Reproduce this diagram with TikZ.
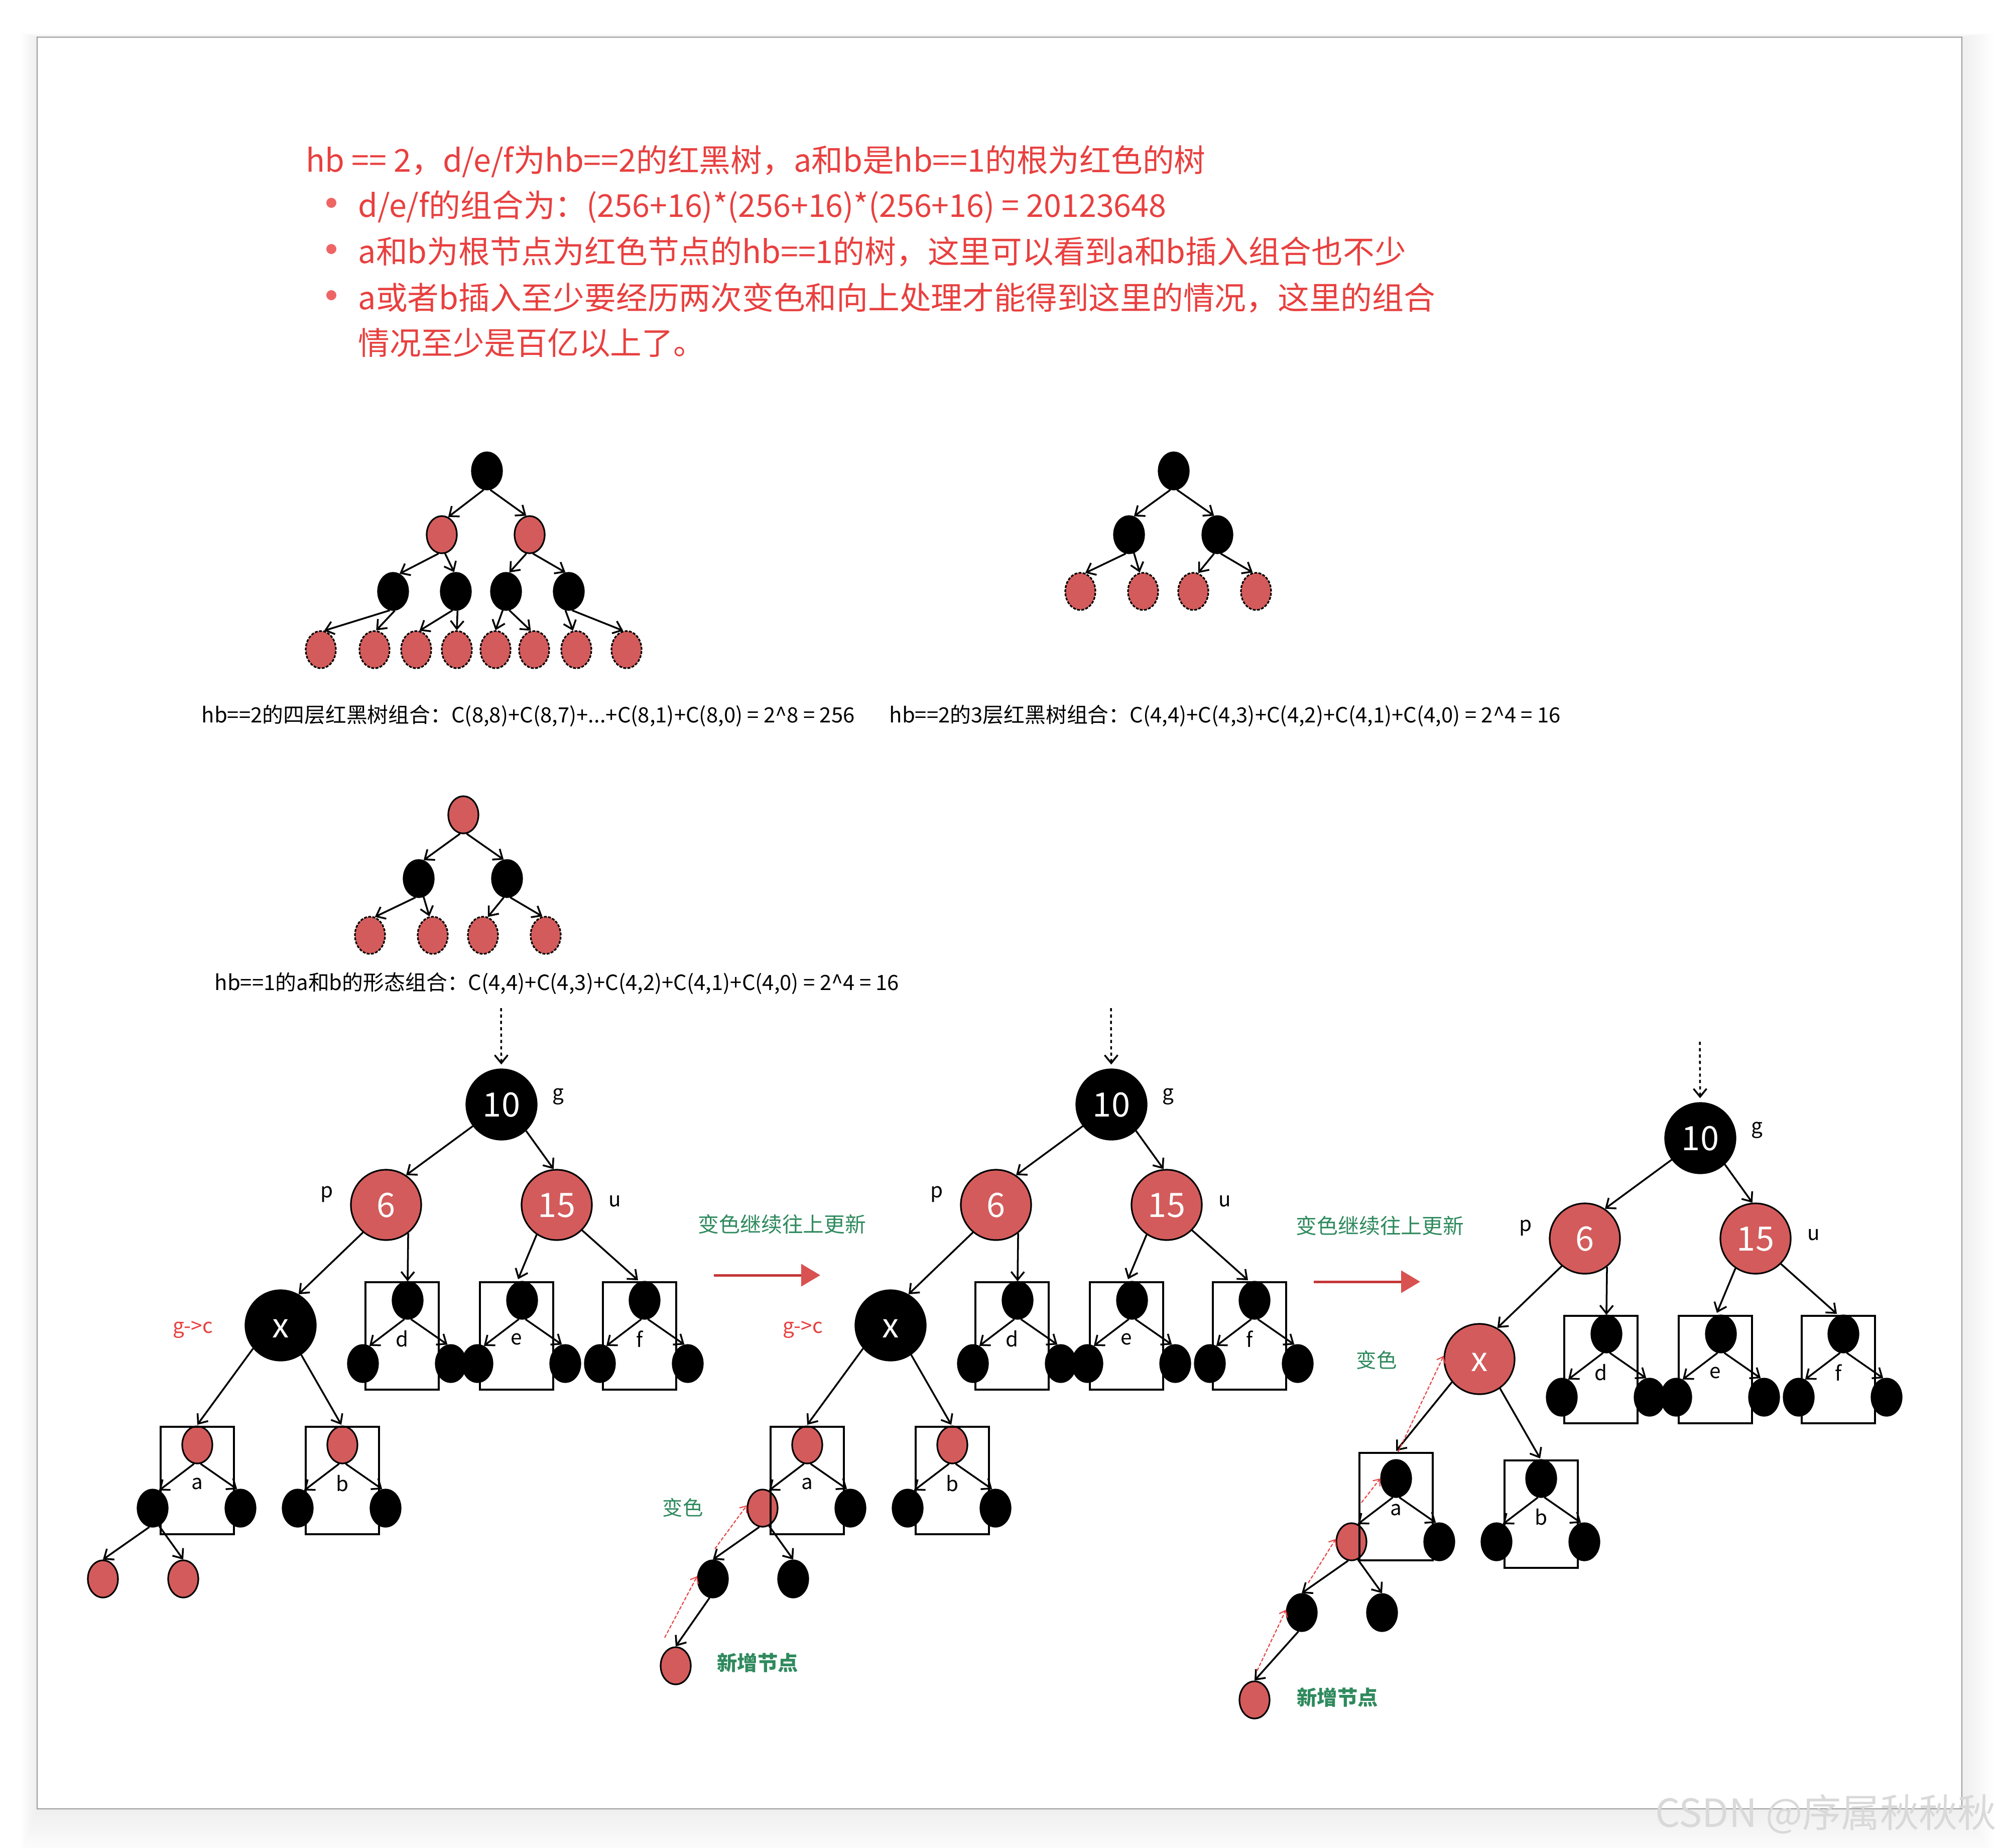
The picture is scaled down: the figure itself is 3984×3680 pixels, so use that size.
\documentclass[tikz,border=0pt]{standalone}
\usepackage{fontspec}
\setmainfont{Noto Sans CJK SC}
\usetikzlibrary{arrows.meta,shapes.geometric}

\definecolor{nodered}{HTML}{D45B5B}
\definecolor{notered}{HTML}{E8403F}
\definecolor{notegreen}{HTML}{2F8A5E}

\newcommand{\subtree}[7]{%
  \node[#4] (#1t) at (#2,#3) {};
  \node[#5] (#1l) at (#2-89,#3+126) {};
  \node[blacknode] (#1r) at (#2+86,#3+126) {};
  \draw[treearrow] (#1t.-100) -- (#1l.70);
  \draw[treearrow] (#1t.-80) -- (#1r.100);
  \draw[boxline] (#2+#6-73,#3+#7-36) rectangle (#2+#6+73,#3+#7+178);
  \node[smalllabel] (#1n) at (#2+#6,#3+#7+77) {#1};
}

\begin{document}
\begin{tikzpicture}[
    x=0.01cm,y=-0.01cm,
    blacknode/.style={ellipse,draw=black,fill=black,line width=0.9pt,minimum width=0.6cm,minimum height=0.74cm,inner sep=0pt},
    rednode/.style={blacknode,fill=nodered},
    redleaf/.style={rednode,dash pattern=on 1.6pt off 0.8pt},
    bigblack/.style={circle,draw=black,fill=black,line width=0.9pt,minimum size=1.4cm,inner sep=0pt,text=white,text height=13.8pt,text depth=0pt,font=\fontsize{19}{19}\selectfont},
    bigred/.style={bigblack,fill=nodered},
    treearrow/.style={draw=black,line width=1pt,-{Straight Barb[length=1.6mm,width=2.6mm]}},
    dotarrow/.style={treearrow,dash pattern=on 1.8pt off 1.8pt,shorten >=0.08cm},
    redarrow/.style={draw=notered,line width=0.6pt,dash pattern=on 2pt off 1pt,-{Straight Barb[length=1.1mm,width=1.8mm]}},
    bigarrow/.style={draw=notered!85!black,line width=1.4pt,-{Triangle[length=3.8mm,width=4.4mm,color=nodered!90!red]}},
    boxline/.style={draw=black,line width=1pt},
    smalllabel/.style={inner sep=0pt,font=\fontsize{11.5}{12}\selectfont},
    headline/.style={anchor=base west,inner sep=0pt,text=notered,font=\fontsize{17.85}{18}\selectfont},
    caption/.style={anchor=base west,inner sep=0pt,font=\fontsize{11.9}{12}\selectfont},
    bulletdot/.style={circle,fill=notered!80!white,minimum size=0.2cm,inner sep=0pt},
    greennote/.style={smalllabel,text=notegreen},
    newnote/.style={greennote,font=\fontsize{11.5}{12}\selectfont\bfseries}]
    \useasboundingbox (0,0) rectangle (3984,3680);

    % page with its soft shadow
    \foreach \i in {16,...,1} {
      \pgfmathsetmacro{\shade}{(17-\i)*0.4}
      \fill[black!\shade!white] (74-\i*2,74-\i*0.5) rectangle (3908+\i*4,3603+\i*6);
    }
    \draw[fill=white,draw=black!40,line width=0.8pt] (74,74) rectangle (3908,3603);

    % the note at the top
    \node[headline] (line1) at (609,342) {hb == 2，d/e/f为hb==2的红黑树，a和b是hb==1的根为红色的树};
    \node[headline] (line2) at (713,432) {d/e/f的组合为：(256+16)*(256+16)*(256+16) = 20123648};
    \node[headline] (line3) at (713,524) {a和b为根节点为红色节点的hb==1的树，这里可以看到a和b插入组合也不少};
    \node[headline] (line4) at (713,616) {a或者b插入至少要经历两次变色和向上处理才能得到这里的情况，这里的组合};
    \node[headline] (line5) at (713,706) {情况至少是百亿以上了。};
    \node[bulletdot] (dot2) at (660,404) {};
    \node[bulletdot] (dot3) at (660,496) {};
    \node[bulletdot] (dot4) at (660,588) {};

    % four level tree
    \node[blacknode] (ra) at (970,938) {};
    \node[rednode] (r1) at (880,1065) {};
    \node[rednode] (r2) at (1055,1065) {};
    \foreach \nm/\px in {b1/783,b2/908,b3/1008,b4/1133}
      \node[blacknode] (\nm) at (\px,1178) {};
    \foreach \nm/\px in {l1/639,l2/746,l3/829,l4/910,l5/987,l6/1064,l7/1148,l8/1248}
      \node[redleaf] (\nm) at (\px,1294) {};
    \foreach \pa/\sa/\ch/\ea in {ra/-100/r1/70,ra/-80/r2/100,r1/-100/b1/70,r1/-80/b2/95,r2/-100/b3/80,r2/-80/b4/100,
        b1/-100/l1/80,b1/-85/l2/85,b2/-100/l3/80,b2/-85/l4/90,b3/-100/l5/90,b3/-80/l6/100,b4/-100/l7/100,b4/-80/l8/100}
      \draw[treearrow] (\pa.\sa) -- (\ch.\ea);
    \node[caption] (capa) at (401,1439) {hb==2的四层红黑树组合：C(8,8)+C(8,7)+...+C(8,1)+C(8,0) = 2\string^8 = 256};

    % three level trees
    \foreach \tn/\tx/\ty/\rootst in {tb/2338/938/blacknode,tc/923/1623/rednode} {
      \begin{scope}[shift={(\tx,\ty)},name prefix=\tn-]
        \node[\rootst] (ra) at (0,0) {};
        \node[blacknode] (m1) at (-89,127) {};
        \node[blacknode] (m2) at (87,127) {};
        \node[redleaf] (l1) at (-186,240) {};
        \node[redleaf] (l2) at (-61,240) {};
        \node[redleaf] (l3) at (39,240) {};
        \node[redleaf] (l4) at (164,240) {};
        \draw[treearrow] (ra.-100) -- (m1.75);
        \draw[treearrow] (ra.-80) -- (m2.100);
        \draw[treearrow] (m1.-100) -- (l1.75);
        \draw[treearrow] (m1.-75) -- (l2.100);
        \draw[treearrow] (m2.-100) -- (l3.75);
        \draw[treearrow] (m2.-80) -- (l4.100);
      \end{scope}
    }
    \node[caption] (capb) at (1771,1439) {hb==2的3层红黑树组合：C(4,4)+C(4,3)+C(4,2)+C(4,1)+C(4,0) = 2\string^4 = 16};
    \node[caption] (capc) at (427,1972) {hb==1的a和b的形态组合：C(4,4)+C(4,3)+C(4,2)+C(4,1)+C(4,0) = 2\string^4 = 16};

    % the three big trees
    \foreach \tn/\tx/\ty/\xst/\topst/\leftst/\leafst/\boxup in {
        ta/0/0/bigblack/rednode/blacknode/rednode/0,
        tb2/1215/0/bigblack/rednode/rednode/blacknode/0,
        tc2/2388/67/bigred/blacknode/rednode/blacknode/-15} {
      \begin{scope}[shift={(\tx,\ty)},name prefix=\tn-]
        \coordinate (in) at (998,2008);
        \node[bigblack] (g) at (999,2200) {10};
        \node[bigred] (p) at (769,2400) {6};
        \node[bigred] (u) at (1109,2400) {15};
        \node[\xst] (x) at (559,2640) {x};
        \node[smalllabel] (gl) at (1112,2184) {g};
        \node[smalllabel] (pl) at (651,2379) {p};
        \node[smalllabel] (ul) at (1225,2393) {u};
        \draw[dotarrow] (in) -- (g);
        \draw[treearrow] (g.-143) -- (p.56);
        \draw[treearrow] (g.-47) -- (u.95);
        \draw[treearrow] (p.-130) -- (x.60);
        \draw[treearrow] (p.-52) -- (812,2552);
        \draw[treearrow] (u.-124) -- (1032,2548);
        \draw[treearrow] (u.-45) -- (1271,2550);
        \subtree{d}{812}{2590}{blacknode}{blacknode}{-11}{0}
        \subtree{e}{1040}{2590}{blacknode}{blacknode}{-11}{0}
        \subtree{f}{1284}{2590}{blacknode}{blacknode}{-10}{0}
        \subtree{a}{393}{2878}{\topst}{\leftst}{0}{\boxup}
        \subtree{b}{682}{2878}{\topst}{blacknode}{0}{0}
        \draw[treearrow] (x.-140) -- (393,2838+\boxup);
        \draw[treearrow] (x.-55) -- (680,2838);
        \node[\leafst] (n1) at (205,3145) {};
        \node[\leafst] (n2) at (365,3145) {};
        \draw[treearrow] (al.-100) -- (n1.north);
        \draw[treearrow] (al.-70) -- (n2.north);
      \end{scope}
    }
    \node[smalllabel,text=notered] (gc1) at (384,2648) {g->c};
    \node[smalllabel,text=notered] (gc2) at (1599,2648) {g->c};

    % new nodes
    \node[rednode] (new2) at (1346,3318) {};
    \node[rednode] (new3) at (2499,3386) {};
    \draw[treearrow] (tb2-n1.-100) -- (new2.north);
    \draw[treearrow] (tc2-n1.-100) -- (new3.north);
    \node[newnote] (newl2) at (1509,3312) {新增节点};
    \node[newnote] (newl3) at (2664,3381) {新增节点};
    \node[greennote] (chg2) at (1360,3003) {变色};
    \node[greennote] (chg3) at (2742,2709) {变色};

    % red dashed way up
    \coordinate (up2a) at (1324,3262);
    \coordinate (up2b) at (1424,3085);
    \coordinate (up3a) at (2504,3328);
    \coordinate (up3b) at (2606,3153);
    \coordinate (up3c) at (2712,2993);
    \coordinate (up3d) at (2785,2892);
    \draw[redarrow] (up2a) -- (tb2-n1.170);
    \draw[redarrow] (up2b) -- (tb2-al.170);
    \draw[redarrow] (up3a) -- (tc2-n1.170);
    \draw[redarrow] (up3b) -- (tc2-al.170);
    \draw[redarrow] (up3c) -- (tc2-at.180);
    \draw[redarrow] (up3d) -- (tc2-x.175);

    % between the trees
    \node[greennote,font=\fontsize{11.9}{12}\selectfont] (upd1) at (1558,2438) {变色继续往上更新};
    \node[greennote,font=\fontsize{11.9}{12}\selectfont] (upd2) at (2749,2441) {变色继续往上更新};
    \coordinate (go1a) at (1422,2540);
    \coordinate (go1b) at (1634,2540);
    \coordinate (go2a) at (2617,2553);
    \coordinate (go2b) at (2829,2553);
    \draw[bigarrow] (go1a) -- (go1b);
    \draw[bigarrow] (go2a) -- (go2b);

    \node[anchor=east,inner sep=0pt,text=black!15,font=\fontsize{22}{22}\selectfont] (mark) at (3978,3613) {CSDN @序属秋秋秋};
\end{tikzpicture}
\end{document}
